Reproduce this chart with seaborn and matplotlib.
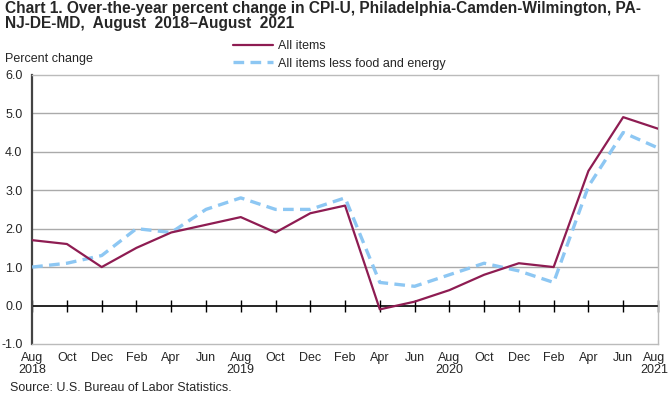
import matplotlib
matplotlib.use("Agg")
import matplotlib.pyplot as plt
from matplotlib.lines import Line2D
from matplotlib.transforms import ScaledTranslation
import seaborn as sns
import pandas as pd

months = ["Aug", "Oct", "Dec", "Feb", "Apr", "Jun", "Aug", "Oct", "Dec", "Feb",
          "Apr", "Jun", "Aug", "Oct", "Dec", "Feb", "Apr", "Jun", "Aug"]
years = ["2018", "", "", "", "", "", "2019", "", "", "", "", "", "2020", "", "", "", "", "", "2021"]
all_items = [1.7, 1.6, 1.0, 1.5, 1.9, 2.1, 2.3, 1.9, 2.4, 2.6,
             -0.1, 0.1, 0.4, 0.8, 1.1, 1.0, 3.5, 4.9, 4.6]
core = [1.0, 1.1, 1.3, 2.0, 1.9, 2.5, 2.8, 2.5, 2.5, 2.8,
        0.6, 0.5, 0.8, 1.1, 0.9, 0.6, 3.1, 4.5, 4.1]
y_ticks = [-1.0, 0.0, 1.0, 2.0, 3.0, 4.0, 5.0, 6.0]

sns.set_theme(style="white")
plt.rcParams['font.family'] = ['Liberation Sans', 'DejaVu Sans']

maroon = "#8E1C52"
blue = "#8DC7F3"
fs = 9

fig = plt.figure(figsize=(6.7, 3.94), dpi=100)
ax = fig.add_axes([0.048, 0.127, 0.934, 0.683])

pos = list(range(len(months)))
df = pd.DataFrame({"pos": pos, "all": all_items, "core": core})

ax.plot(pos, [0] * len(pos), color="black", lw=1.2, marker="|", markersize=8,
        markeredgewidth=1.0, zorder=2, clip_on=False)
sns.lineplot(data=df, x="pos", y="core", ax=ax, color=blue, lw=2.4, zorder=3)
ax.lines[-1].set_dashes((3.2, 1.9))
sns.lineplot(data=df, x="pos", y="all", ax=ax, color=maroon, lw=1.6, zorder=4)

ax.set_xlim(0, len(pos) - 1)
ax.set_ylim(-1, 6)
ax.set_yticks(y_ticks)
ax.set_yticklabels([f"{v:.1f}" for v in y_ticks], fontsize=fs)
for v in y_ticks[2:-1]:
    ax.axhline(v, color="#AAAAAA", lw=1.0, zorder=1)

labels = [m + ("\n" + y if y else "") for m, y in zip(months, years)]
ax.set_xticks(pos)
ax.set_xticklabels(labels, fontsize=fs, linespacing=1.0)
ax.tick_params(axis="x", length=0, pad=6)
ax.tick_params(axis="y", length=0, pad=7)
ax.set_xlabel("")
ax.set_ylabel("")
last = ax.get_xticklabels()[-1]
last.set_transform(last.get_transform() + ScaledTranslation(-2.5 / 72, 0, fig.dpi_scale_trans))

for s in ["top", "right", "bottom"]:
    ax.spines[s].set_color("#BBBBBB")
    ax.spines[s].set_linewidth(1.0)
ax.spines["left"].set_color("#444444")
ax.spines["left"].set_linewidth(1.6)

fig.text(0.007, 0.998, "Chart 1. Over-the-year percent change in CPI-U, Philadelphia-Camden-Wilmington, PA-\nNJ-DE-MD,  August  2018\u2013August  2021",
         fontsize=11.2, fontweight="bold", va="top", ha="left", linespacing=1.0)
fig.text(0.007, 0.85, "Percent change", fontsize=fs, va="center", ha="left")
fig.text(0.015, 0.014, "Source: U.S. Bureau of Labor Statistics.", fontsize=fs, va="center", ha="left")

handles = [Line2D([], [], color=maroon, lw=1.6),
           Line2D([], [], color=blue, lw=2.4, dashes=(3.2, 1.9))]
fig.legend(handles, ["All items", "All items less food and energy"],
           loc="upper left", bbox_to_anchor=(0.348, 0.898), frameon=False,
           fontsize=fs, handlelength=3.2, handletextpad=0.35, labelspacing=0.45,
           borderaxespad=0, borderpad=0)

fig.savefig("out.png", dpi=100)
